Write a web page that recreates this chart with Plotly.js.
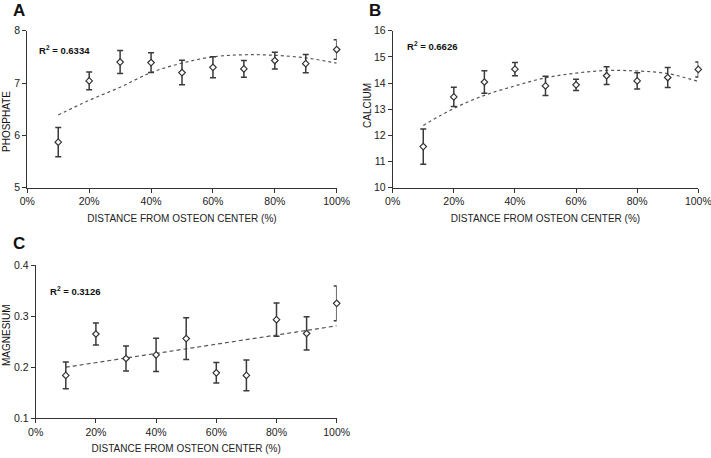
<!DOCTYPE html>
<html>
<head>
<meta charset="utf-8">
<script src="https://cdn.plot.ly/plotly-3.0.1.min.js"></script>
<style>
  html, body { margin: 0; padding: 0; background: #fff; }
  #chart { width: 711px; height: 458px; }
</style>
</head>
<body>
<div id="chart"></div>
<script>
// distance from osteon center (%)
const pct = [10, 20, 30, 40, 50, 60, 70, 80, 90, 100];

// panel A - phosphate
const phosphate = [5.87, 7.04, 7.40, 7.39, 7.20, 7.30, 7.27, 7.43, 7.37, 7.64];
const phosphateErr = [0.28, 0.17, 0.22, 0.19, 0.235, 0.20, 0.16, 0.16, 0.175, 0.185];
const phosphateTrend = [6.39, 6.67, 6.92, 7.20, 7.38, 7.50, 7.54, 7.53, 7.48, 7.38];

// panel B - calcium
const calcium = [11.57, 13.47, 14.04, 14.53, 13.89, 13.93, 14.28, 14.08, 14.21, 14.52];
const calciumErr = [0.67, 0.365, 0.43, 0.25, 0.365, 0.215, 0.34, 0.31, 0.38, 0.285];
const calciumTrend = [12.38, 13.03, 13.53, 13.89, 14.20, 14.38, 14.48, 14.46, 14.36, 14.06];

// panel C - magnesium (linear trend, endpoints)
const magnesium = [0.184, 0.265, 0.217, 0.224, 0.256, 0.189, 0.184, 0.293, 0.266, 0.325];
const magnesiumErr = [0.026, 0.0215, 0.0245, 0.0325, 0.041, 0.02, 0.03, 0.0325, 0.0325, 0.034];
const magTrendX = [10, 100];
const magTrend = [0.200, 0.281];

const xTicks = [0, 20, 40, 60, 80, 100];
const xTickText = ['0%', '20%', '40%', '60%', '80%', '100%'];
const r2Labels = ['0.6334', '0.6626', '0.3126'];
const yTitles = ['PHOSPHATE', 'CALCIUM', 'MAGNESIUM'];
const panelLetters = ['A', 'B', 'C'];

const W = 711, H = 458;
const px = v => v / W;
const py = v => 1 - v / H;

const FONT = 'Liberation Sans, Arial, sans-serif';
const ink = '#333';

function pointTrace(y, err, xa, ya) {
  return {
    x: pct, y: y,
    xaxis: xa, yaxis: ya,
    mode: 'markers',
    cliponaxis: false,
    marker: { symbol: 'diamond', size: 5, color: '#fff', line: { color: '#333', width: 1.2 } },
    error_y: { type: 'data', array: err, visible: true, color: '#3a3a3a', thickness: 1.5, width: 3 },
    showlegend: false,
    hoverinfo: 'x+y'
  };
}

function trendTrace(x, y, xa, ya, dash, shape) {
  return {
    x: x, y: y,
    xaxis: xa, yaxis: ya,
    mode: 'lines',
    line: { color: '#555', width: 1.2, dash: dash, shape: shape },
    showlegend: false,
    hoverinfo: 'skip'
  };
}

const traces = [
  trendTrace(pct, phosphateTrend, 'x', 'y', 'dot', 'spline'),
  pointTrace(phosphate, phosphateErr, 'x', 'y'),
  trendTrace(pct, calciumTrend, 'x2', 'y2', 'dot', 'spline'),
  pointTrace(calcium, calciumErr, 'x2', 'y2'),
  trendTrace(magTrendX, magTrend, 'x3', 'y3', '4px,3px', 'linear'),
  pointTrace(magnesium, magnesiumErr, 'x3', 'y3')
];

function xAxis(domain, anchor) {
  return {
    domain: domain, anchor: anchor,
    range: [0, 100],
    tickmode: 'array', tickvals: xTicks, ticktext: xTickText,
    ticks: 'outside', ticklen: 4, tickcolor: ink,
    ticklabeloverflow: 'allow',
    showline: true, linecolor: ink, linewidth: 1,
    showgrid: false, zeroline: false,
    tickfont: { family: FONT, size: 10.5, color: '#222' },
    title: { text: 'DISTANCE FROM OSTEON CENTER (%)', font: { family: FONT, size: 10, color: '#222' }, standoff: 8 }
  };
}

function yAxis(domain, anchor, range, dtick) {
  return {
    domain: domain, anchor: anchor,
    range: range, dtick: dtick,
    ticks: 'outside', ticklen: 4, tickcolor: ink,
    showline: true, linecolor: ink, linewidth: 1,
    showgrid: false, zeroline: false,
    tickfont: { family: FONT, size: 10.5, color: '#222' }
  };
}

const topY = [py(187.7), py(30.7)];
const botY = [py(418.3), py(265)];

const annotations = [];
function note(x, y, text, size, angle) {
  annotations.push({
    xref: 'paper', yref: 'paper', x: px(x), y: py(y),
    xanchor: 'center', yanchor: 'middle',
    text: text, textangle: angle || 0, showarrow: false,
    font: { family: FONT, size: size, color: '#111' }
  });
}
// panel letters
[[19, 10], [374.5, 10], [18.5, 243.5]].forEach((p, i) => note(p[0], p[1], '<b>' + panelLetters[i] + '</b>', 17));
// R^2 labels
[[64.5, 50], [431.5, 46], [75, 291]].forEach((p, i) => note(p[0], p[1], '<b>R<sup>2</sup> = ' + r2Labels[i] + '</b>', 9.5));
// y titles
[[6, 122], [367, 106], [6, 335]].forEach((p, i) => note(p[0], p[1], yTitles[i], 10, -90));

const layout = {
  width: W, height: H,
  margin: { l: 0, r: 0, t: 0, b: 0 },
  paper_bgcolor: '#fff', plot_bgcolor: '#fff',
  showlegend: false,
  xaxis: xAxis([px(27.3), px(336.7)], 'y'),
  yaxis: yAxis(topY, 'x', [5, 8], 1),
  xaxis2: xAxis([px(392.7), px(698.3)], 'y2'),
  yaxis2: yAxis(topY, 'x2', [10, 16], 1),
  xaxis3: xAxis([px(35.7), px(336.7)], 'y3'),
  yaxis3: yAxis(botY, 'x3', [0.1, 0.4], 0.1),
  annotations: annotations
};
layout.yaxis3.tickformat = '.1f';

Plotly.newPlot('chart', traces, layout, { displayModeBar: false, staticPlot: true });
</script>
</body>
</html>
